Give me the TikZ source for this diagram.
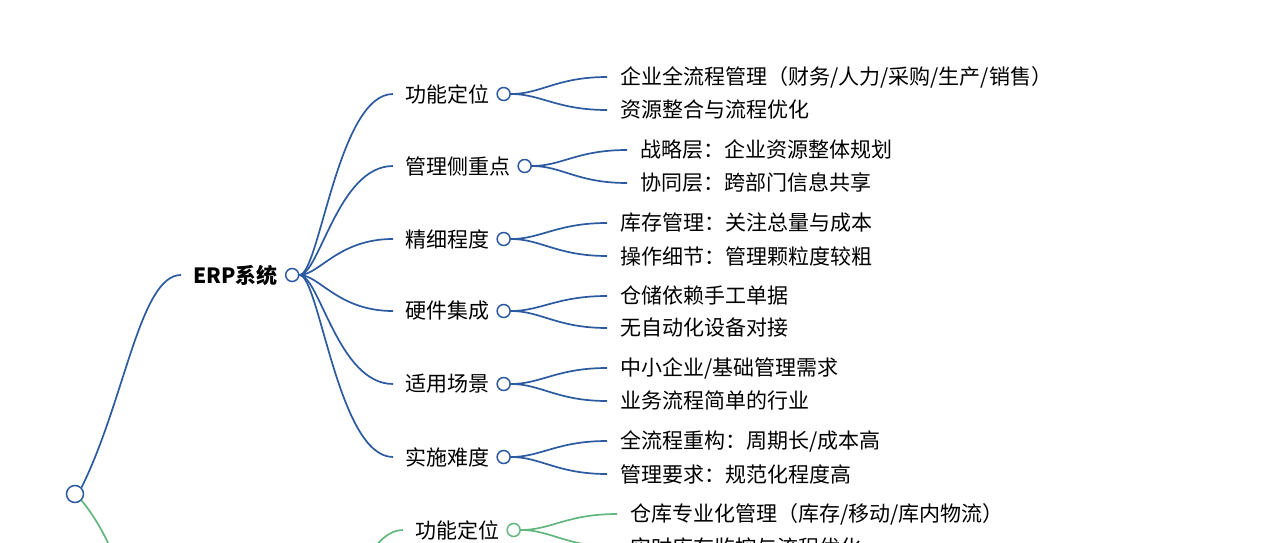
\documentclass[tikz,border=0pt]{standalone}
\usepackage{fontspec}
\setmainfont{Noto Sans CJK SC}
\usetikzlibrary{positioning}
\definecolor{erpblue}{HTML}{2C5AA0}
\definecolor{wmsgreen}{HTML}{62B77F}
\tikzset{%
txt/.style={inner sep=0pt, anchor=west, font=\fontsize{21}{25}\selectfont},
hub/.style={draw=#1, circle, line width=1.5pt, minimum size=13pt, inner sep=0pt, fill=white},
link/.style={draw=#1, line width=1.7pt},
pics/.cd,
topic/.style args={#1#2#3}{
  code={\node[txt] (#3) {#2};
       \node[hub=#1, right=7pt of #3] (#3c) {};
  }
},
}

\begin{document}
\begin{tikzpicture}[x=1pt,y=-1pt]
    \useasboundingbox (0,0) rectangle (1280,543);
    \clip (0,0) rectangle (1280,543);
    % root and first level
    \node[hub=erpblue, minimum size=17pt] (root) at (75,494) {};
    \coordinate (wms) at (190,711);
    \coordinate (wmsc) at (305,711);
    \pic at (193,275) {topic={erpblue}{\bfseries ERP系统}{erp}};
    \draw[link=erpblue] (root.north east) .. controls (125,400) and (140,275) .. ([xshift=-12pt]erp.west);
    \draw[link=wmsgreen] (root.south east) .. controls (140,570) and (145,711) .. (wms);
    % ERP branches
    \pic at (405,94) {topic={erpblue}{功能定位}{f1}};
    \pic at (405,166) {topic={erpblue}{管理侧重点}{f2}};
    \pic at (405,239) {topic={erpblue}{精细程度}{f3}};
    \pic at (405,311) {topic={erpblue}{硬件集成}{f4}};
    \pic at (405,384) {topic={erpblue}{适用场景}{f5}};
    \pic at (405,457) {topic={erpblue}{实施难度}{f6}};
    \draw[link=erpblue] (erpc.east) .. controls +(20,0) and +(-55,0) .. ([xshift=-12pt]f1.west);
    \draw[link=erpblue] (erpc.east) .. controls +(20,0) and +(-55,0) .. ([xshift=-12pt]f2.west);
    \draw[link=erpblue] (erpc.east) .. controls +(20,0) and +(-55,0) .. ([xshift=-12pt]f3.west);
    \draw[link=erpblue] (erpc.east) .. controls +(20,0) and +(-55,0) .. ([xshift=-12pt]f4.west);
    \draw[link=erpblue] (erpc.east) .. controls +(20,0) and +(-55,0) .. ([xshift=-12pt]f5.west);
    \draw[link=erpblue] (erpc.east) .. controls +(20,0) and +(-55,0) .. ([xshift=-12pt]f6.west);
    % ERP leaves
    \node[txt] (f1a) at (620,77) {企业全流程管理（财务/人力/采购/生产/销售）};
    \node[txt] (f1b) at (620,110) {资源整合与流程优化};
    \node[txt] (f2a) at (640,150) {战略层：企业资源整体规划};
    \node[txt] (f2b) at (640,183) {协同层：跨部门信息共享};
    \node[txt] (f3a) at (620,223) {库存管理：关注总量与成本};
    \node[txt] (f3b) at (620,256) {操作细节：管理颗粒度较粗};
    \node[txt] (f4a) at (620,296) {仓储依赖手工单据};
    \node[txt] (f4b) at (620,328) {无自动化设备对接};
    \node[txt] (f5a) at (620,368) {中小企业/基础管理需求};
    \node[txt] (f5b) at (620,401) {业务流程简单的行业};
    \node[txt] (f6a) at (620,441) {全流程重构：周期长/成本高};
    \node[txt] (f6b) at (620,474) {管理要求：规范化程度高};
    \draw[link=erpblue] (f1c.east) .. controls +(30,0) and +(-50,0) .. ([xshift=-13pt]f1a.west);
    \draw[link=erpblue] (f1c.east) .. controls +(30,0) and +(-50,0) .. ([xshift=-13pt]f1b.west);
    \draw[link=erpblue] (f2c.east) .. controls +(30,0) and +(-50,0) .. ([xshift=-13pt]f2a.west);
    \draw[link=erpblue] (f2c.east) .. controls +(30,0) and +(-50,0) .. ([xshift=-13pt]f2b.west);
    \draw[link=erpblue] (f3c.east) .. controls +(30,0) and +(-50,0) .. ([xshift=-13pt]f3a.west);
    \draw[link=erpblue] (f3c.east) .. controls +(30,0) and +(-50,0) .. ([xshift=-13pt]f3b.west);
    \draw[link=erpblue] (f4c.east) .. controls +(30,0) and +(-50,0) .. ([xshift=-13pt]f4a.west);
    \draw[link=erpblue] (f4c.east) .. controls +(30,0) and +(-50,0) .. ([xshift=-13pt]f4b.west);
    \draw[link=erpblue] (f5c.east) .. controls +(30,0) and +(-50,0) .. ([xshift=-13pt]f5a.west);
    \draw[link=erpblue] (f5c.east) .. controls +(30,0) and +(-50,0) .. ([xshift=-13pt]f5b.west);
    \draw[link=erpblue] (f6c.east) .. controls +(30,0) and +(-50,0) .. ([xshift=-13pt]f6a.west);
    \draw[link=erpblue] (f6c.east) .. controls +(30,0) and +(-50,0) .. ([xshift=-13pt]f6b.west);
    % second system, cut by the page edge
    \pic at (415,530) {topic={wmsgreen}{功能定位}{g1}};
    \draw[link=wmsgreen] (wmsc) .. controls +(20,0) and +(-55,0) .. ([xshift=-12pt]g1.west);
    \node[txt] (g1a) at (630,514) {仓库专业化管理（库存/移动/库内物流）};
    \node[txt] (g1b) at (630,547) {实时库存监控与流程优化};
    \draw[link=wmsgreen] (g1c.east) .. controls +(30,0) and +(-50,0) .. ([xshift=-13pt]g1a.west);
    \draw[link=wmsgreen] (g1c.east) .. controls +(30,0) and +(-50,0) .. ([xshift=-13pt]g1b.west);
\end{tikzpicture}
\end{document}
